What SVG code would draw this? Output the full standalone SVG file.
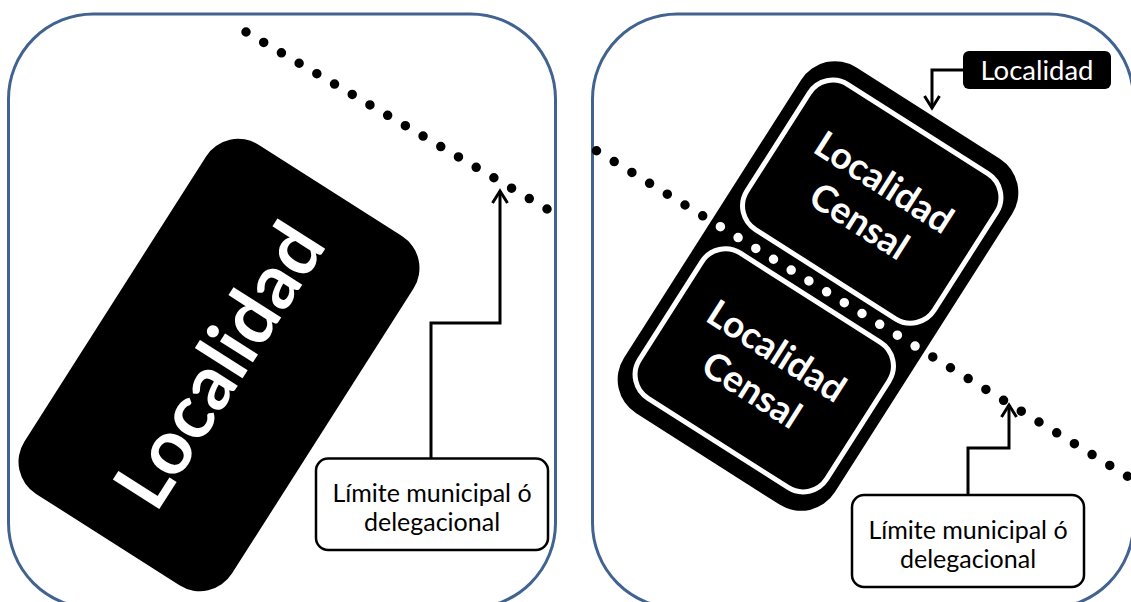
<svg xmlns="http://www.w3.org/2000/svg" width="1131" height="602" viewBox="0 0 1131 602">
  <style>
    .panel { fill: #ffffff; stroke: #41638f; stroke-width: 3; }
    .block { fill: #000000; }
    .inner { fill: #000000; stroke: #ffffff; stroke-width: 5; }
    .callout { fill: #ffffff; stroke: #000000; stroke-width: 2.5; }
    .wire { fill: none; stroke: #000000; stroke-width: 3; }
    .dots { fill: none; stroke-width: 9.5; stroke-linecap: round; }
    .big { font-family: Lato, "Open Sans", sans-serif; font-weight: 700; fill: #ffffff; text-anchor: middle; }
    .label { font-family: Lato, "Open Sans", sans-serif; font-size: 25px; fill: #000000; text-anchor: middle; }
  </style>
  <defs>
    <marker id="arrow" markerUnits="userSpaceOnUse" markerWidth="30" markerHeight="30" viewBox="-15 -15 30 30" refX="0" refY="0" orient="auto" overflow="visible">
      <path d="M-12,-7.5 L0,0 L-12,7.5" fill="none" stroke="#000000" stroke-width="3"/>
    </marker>
    <clipPath id="outer-clip">
      <rect x="-125" y="-205" width="250" height="410" rx="40" transform="translate(818 286) rotate(32.5)"/>
    </clipPath>
  </defs>

  <!-- panel frames -->
  <rect id="panel-left" class="panel" x="8.5" y="14" width="547" height="594" rx="85"/>
  <rect id="panel-right" class="panel" x="592.5" y="14" width="541" height="594" rx="85"/>

  <!-- left panel: single locality -->
  <g id="localidad-left" transform="translate(219 365) rotate(32.5)">
    <rect class="block" x="-123" y="-207" width="246" height="414" rx="38"/>
    <text class="big" font-size="76" transform="rotate(-90)" x="0" y="27">Localidad</text>
  </g>

  <!-- right panel: locality split in two census localities -->
  <g id="localidad-right" transform="translate(818 286) rotate(32.5)">
    <rect class="block" x="-125" y="-205" width="250" height="410" rx="40"/>
  </g>
  <g id="censal-upper" transform="translate(818 286) rotate(32.5)">
    <rect class="inner" x="-111" y="-186" width="222" height="172" rx="28"/>
    <text class="big" font-size="37" x="0" y="-110">Localidad</text>
    <text class="big" font-size="37" x="0" y="-64">Censal</text>
  </g>
  <g id="censal-lower" transform="translate(818 286) rotate(32.5)">
    <rect class="inner" x="-111" y="14" width="222" height="172" rx="28"/>
    <text class="big" font-size="37" x="0" y="90">Localidad</text>
    <text class="big" font-size="37" x="0" y="136">Censal</text>
  </g>

  <!-- municipal boundaries -->
  <g id="limite-left">
    <path class="dots" stroke="#000000" stroke-dasharray="0 20.54" d="M246,32 L547,209"/>
  </g>
  <g id="limite-right">
    <path class="dots" stroke="#000000" stroke-dasharray="0 20.76" d="M596.5,150.75 L1127.5,476.25"/>
    <path class="dots" stroke="#ffffff" stroke-dasharray="0 20.76" clip-path="url(#outer-clip)" d="M596.5,150.75 L1127.5,476.25"/>
  </g>

  <!-- labels -->
  <g id="label-limite-left">
    <rect class="callout" x="316" y="458.5" width="232" height="91.5" rx="12"/>
    <text class="label" x="432" y="502">Límite municipal ó</text>
    <text class="label" x="432" y="531">delegacional</text>
  </g>
  <g id="label-limite-right">
    <rect class="callout" x="852" y="495" width="232" height="92" rx="12"/>
    <text class="label" x="968" y="539">Límite municipal ó</text>
    <text class="label" x="968" y="568">delegacional</text>
  </g>
  <g id="label-localidad">
    <rect x="963" y="51" width="148" height="38" rx="6" fill="#000000"/>
    <text x="1037" y="79.5" font-family="Lato, 'Open Sans', sans-serif" font-size="27.5" fill="#ffffff" text-anchor="middle">Localidad</text>
  </g>

  <!-- connectors -->
  <g id="connectors">
    <path class="wire" marker-end="url(#arrow)" d="M431,458.5 V323 H500 V191"/>
    <path class="wire" marker-end="url(#arrow)" d="M968,495 V448 H1009 V405"/>
    <path class="wire" marker-end="url(#arrow)" d="M963,70 H932 V108"/>
  </g>
</svg>
